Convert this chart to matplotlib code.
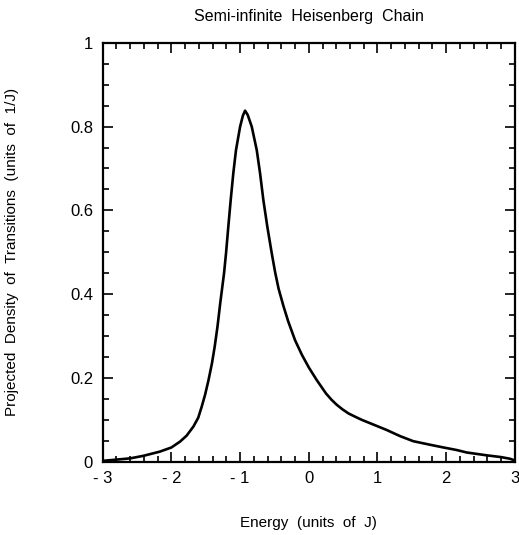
"""Semi-infinite Heisenberg chain: projected density of transitions."""
import matplotlib
matplotlib.use("Agg")
import matplotlib.pyplot as plt
from matplotlib.ticker import FixedLocator, FixedFormatter, MultipleLocator

plt.rcParams["font.family"] = ["Liberation Sans", "DejaVu Sans"]

# values
energy = [-3.0, -2.6, -2.41, -2.17, -2.0, -1.875, -1.78, -1.68, -1.61, -1.56,
          -1.51, -1.46, -1.41, -1.37, -1.33, -1.29, -1.234, -1.205, -1.172,
          -1.137, -1.099, -1.06, -1.0, -0.96, -0.928, -0.89, -0.831, -0.758,
          -0.71, -0.662, -0.604, -0.54, -0.49, -0.44, -0.37, -0.30, -0.20,
          -0.10, 0.0, 0.115, 0.25, 0.33, 0.406, 0.49, 0.58, 0.68, 0.77, 0.95,
          1.13, 1.33, 1.52, 1.75, 1.96, 2.15, 2.3, 2.6, 2.8, 2.93, 3.0]
density = [0.002, 0.008, 0.014, 0.024, 0.034, 0.048, 0.062, 0.084, 0.105, 0.131,
           0.16, 0.195, 0.235, 0.275, 0.322, 0.378, 0.45, 0.498, 0.561,
           0.625, 0.689, 0.744, 0.80, 0.826, 0.838, 0.828, 0.80, 0.744,
           0.689, 0.625, 0.561, 0.498, 0.452, 0.413, 0.372, 0.335, 0.29,
           0.255, 0.225, 0.195, 0.163, 0.148, 0.136, 0.125, 0.115, 0.107, 0.10, 0.088,
           0.076, 0.061, 0.049, 0.041, 0.034, 0.028, 0.022, 0.015, 0.011, 0.007, 0.003]

xticks = [-3, -2, -1, 0, 1, 2, 3]
xtick_labels = ["- 3", "- 2", "- 1", "0", "1", "2", "3"]
yticks = [0, 0.2, 0.4, 0.6, 0.8, 1.0]
ytick_labels = ["0", "0.2", "0.4", "0.6", "0.8", "1"]

fig = plt.figure(figsize=(5.19, 5.35), dpi=100)
ax = fig.add_axes([0.198, 0.137, 0.794, 0.783])

ax.plot(energy, density, color="black", lw=1.9, solid_capstyle="round",
        solid_joinstyle="round")

ax.set_xlim(-3, 3)
ax.set_ylim(0, 1)
ax.xaxis.set_major_locator(FixedLocator(xticks))
ax.xaxis.set_major_formatter(FixedFormatter(xtick_labels))
ax.xaxis.set_minor_locator(MultipleLocator(0.2))
ax.yaxis.set_major_locator(FixedLocator(yticks))
ax.yaxis.set_major_formatter(FixedFormatter(ytick_labels))
ax.yaxis.set_minor_locator(MultipleLocator(0.05))

ax.tick_params(which="both", direction="in", top=True, right=True,
               width=1.2, labelsize=12, colors="black")
ax.tick_params(which="major", length=7, pad=7)
ax.tick_params(which="minor", length=4)
for s in ax.spines.values():
    s.set_linewidth(1.6)

ax.set_title("Semi-infinite  Heisenberg  Chain", fontsize=11.5, pad=16)
ax.set_xlabel("Energy  (units  of  J)", fontsize=11, labelpad=21)
ax.set_ylabel("Projected  Density  of  Transitions  (units  of  1/J)",
              fontsize=11, labelpad=37)

fig.savefig("out.png", dpi=100)
